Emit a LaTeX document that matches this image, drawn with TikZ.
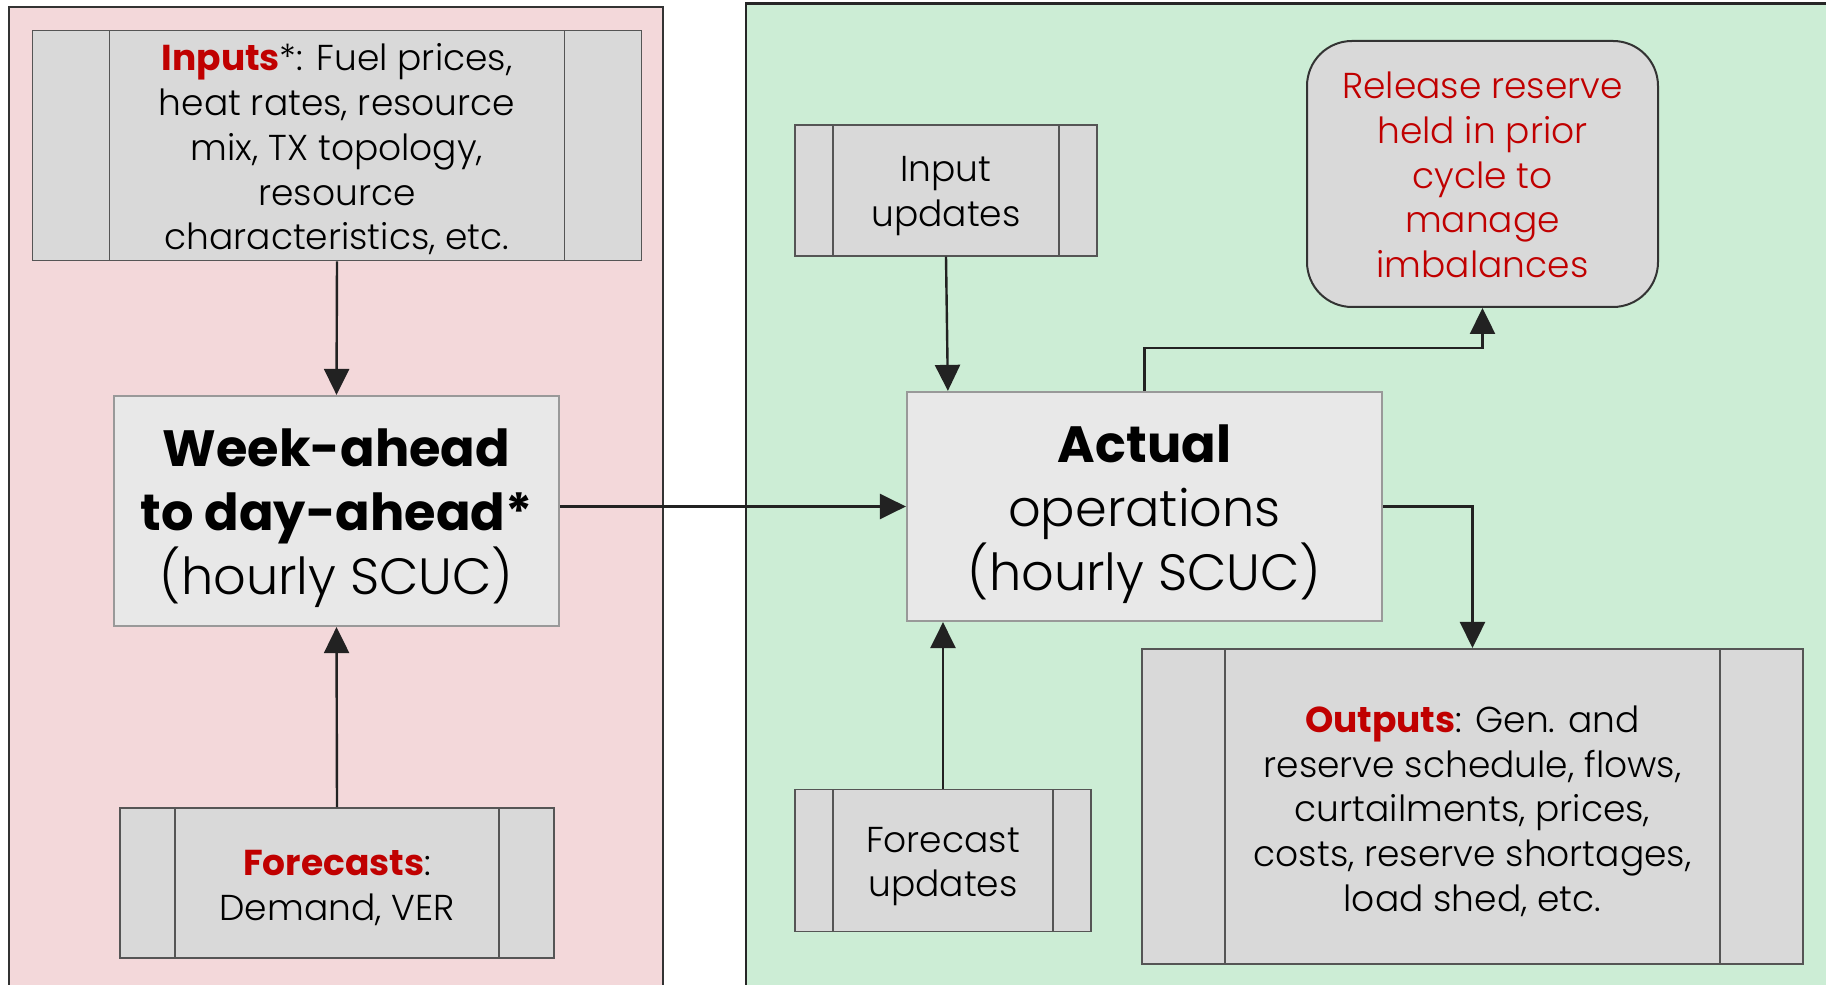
\documentclass[tikz,border=0pt]{standalone}
\usepackage{fontspec}
\setmainfont{Poppins}[UprightFont=* Light, BoldFont=* Bold]
\usetikzlibrary{arrows.meta,calc}
\definecolor{pinkbg}{HTML}{F3D8DA}
\definecolor{greenbg}{HTML}{CCEDD5}
\definecolor{boxgray}{HTML}{D9D9D9}
\definecolor{lightbox}{HTML}{E8E8E8}
\definecolor{hred}{HTML}{C00000}
\definecolor{edge}{HTML}{555555}
\definecolor{arrowc}{HTML}{222222}
\begin{document}
\begin{tikzpicture}[x=1pt,y=1pt,
  txt/.style={font=\fontsize{36}{44.8}\selectfont, align=center, text=black, inner sep=0pt},
  bigtxt/.style={font=\fontsize{51}{64}\selectfont, align=center, text=black, inner sep=0pt},
  proc/.style={draw=edge, line width=1.6pt, fill=boxgray, inner sep=0pt,
    path picture={
      \draw[edge, line width=1.6pt] ([xshift=#1]path picture bounding box.north west) -- ([xshift=#1]path picture bounding box.south west);
      \draw[edge, line width=1.6pt] ([xshift=-#1]path picture bounding box.north east) -- ([xshift=-#1]path picture bounding box.south east);
    }},
  mainbox/.style={draw=black!40, line width=2.2pt, fill=lightbox, inner sep=0pt},
  arr/.style={draw=arrowc, line width=2.4pt, -{Triangle[length=26pt,width=25pt]}}
]
\clip (0,0) rectangle (1826,985);
\fill[white] (0,0) rectangle (1826,985);
\draw[fill=pinkbg, draw=black!80, line width=2pt] (9,-20) rectangle (663,978);
\draw[fill=greenbg, draw=black!85, line width=2.4pt] (746,-20) rectangle (1840,981.5);

\node[proc=77pt, minimum width=609pt, minimum height=230pt,
  label={[txt, yshift=-4pt]center:\textbf{\textcolor{hred}{Inputs}}*: Fuel prices,\\ heat rates, resource\\ mix, TX topology,\\ resource\\ characteristics, etc.}] (inputs) at (337,839.5) {};
\node[mainbox, minimum width=445pt, minimum height=230pt,
  label={[bigtxt, yshift=-7pt]center:\textbf{Week-ahead}\\ \textbf{to day-ahead*}\\ (hourly SCUC)}] (week) at (336.5,474) {};
\node[proc=55pt, minimum width=434pt, minimum height=150pt,
  label={[txt, yshift=-5pt]center:\textbf{\textcolor{hred}{Forecasts}}:\\ Demand, VER}] (fc) at (337,102) {};
\node[proc=38pt, minimum width=302pt, minimum height=131pt,
  label={[txt, yshift=-6pt]center:Input\\ updates}] (iu) at (946,794.7) {};
\node[mainbox, minimum width=475pt, minimum height=229pt,
  label={[bigtxt, yshift=-8pt]center:\textbf{Actual}\\ operations\\ (hourly SCUC)}] (actual) at (1144.5,478.5) {};
\node[draw=black!80, line width=2pt, fill=boxgray, rounded corners=45pt,
  minimum width=351pt, minimum height=266pt, inner sep=0pt,
  label={[txt, text=hred, yshift=-1pt]center:Release reserve\\ held in prior\\ cycle to\\ manage\\ imbalances}] (release) at (1482.5,811) {};
\node[proc=83pt, minimum width=661pt, minimum height=315pt,
  label={[txt, yshift=-5pt]center:\textbf{\textcolor{hred}{Outputs}}: Gen. and\\ reserve schedule, flows,\\ curtailments, prices,\\ costs, reserve shortages,\\ load shed, etc.}] (outputs) at (1472.5,178.7) {};
\node[proc=38pt, minimum width=296pt, minimum height=142pt,
  label={[txt, yshift=-6pt]center:Forecast\\ updates}] (fu) at (943,124.5) {};

\draw[arr] (inputs.south) -- (week.north);
\draw[arr] (fc.north) -- (week.south);
\draw[arr] (actual.west -| week.east) -- (actual.west);
\draw[arr] (iu.south) -- ([xshift=42pt]actual.north west);
\draw[arr] (actual.north) -- ++(0,43) -| (release.south);
\draw[arr] (actual.east) -| (outputs.north);
\draw[arr] (fu.north) -- (fu.north |- actual.south);
\end{tikzpicture}
\end{document}
